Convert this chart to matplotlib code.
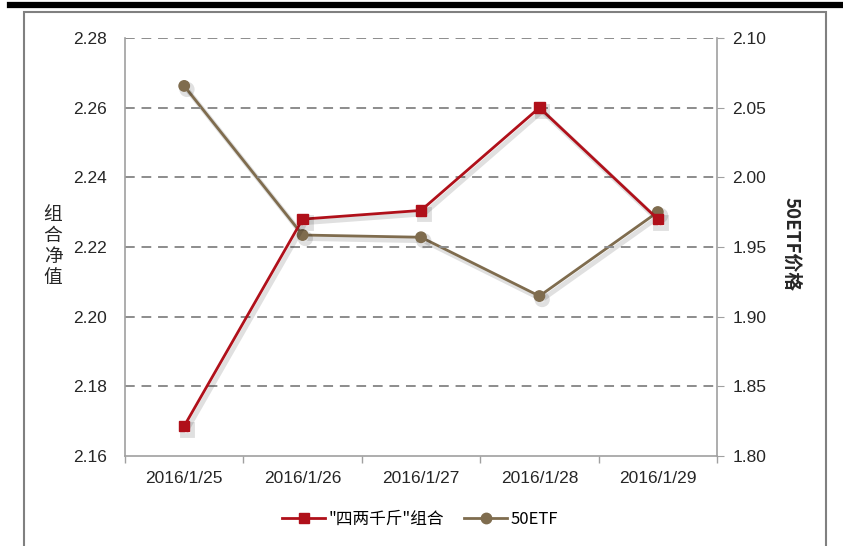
import matplotlib
matplotlib.use("Agg")
import matplotlib.pyplot as plt
import matplotlib.patheffects as pe
from matplotlib.patches import Rectangle
from matplotlib.lines import Line2D

plt.rcParams['font.family'] = ['Liberation Sans', 'Noto Sans CJK SC', 'DejaVu Sans']

dates = ["2016/1/25", "2016/1/26", "2016/1/27", "2016/1/28", "2016/1/29"]
portfolio = [2.1686, 2.2280, 2.2305, 2.2600, 2.2280]
etf50 = [2.0656, 1.9586, 1.9570, 1.9148, 1.9751]
left_ticks = [2.16, 2.18, 2.20, 2.22, 2.24, 2.26, 2.28]
right_ticks = [1.80, 1.85, 1.90, 1.95, 2.00, 2.05, 2.10]
name_port = '"四两千斤"组合'
name_etf = '50ETF'

red = '#B0101A'
brown = '#7F6C4E'
axcol = '#A0A0A0'

fig = plt.figure(figsize=(8.43, 5.46), dpi=100)
# outer frame and top black rule
fig.add_artist(Line2D([10/843, 842/843], [1-5/546, 1-5/546], color='black', lw=4.5, transform=fig.transFigure))
fig.add_artist(Rectangle((24/843, -0.05), (826-24)/843, 1.05-12/546,
                         fill=False, edgecolor='#808080', lw=1.5, transform=fig.transFigure))

ax = fig.add_axes([125/843, 1-456/546, (717-125)/843, (456-38)/546])
ax2 = ax.twinx()

x = list(range(len(dates)))
shadow = [pe.SimpleLineShadow(offset=(2, -2.5), shadow_color='#000000', alpha=0.12, linewidth=3.5), pe.Normal()]

ax.plot(x, portfolio, color=red, lw=2.0, marker='s', markersize=7.5, zorder=3,
        path_effects=shadow)
ax2.plot(x, etf50, color=brown, lw=2.0, marker='o', markersize=7.5, zorder=3,
         path_effects=shadow)

ax.set_xlim(-0.5, len(dates) - 0.5)
ax.set_ylim(left_ticks[0], left_ticks[-1])
ax2.set_ylim(right_ticks[0], right_ticks[-1])
ax.set_yticks(left_ticks)
ax.set_yticklabels([f'{v:.2f}' for v in left_ticks])
ax2.set_yticks(right_ticks)
ax2.set_yticklabels([f'{v:.2f}' for v in right_ticks])

for v in left_ticks[1:]:
    ax.axhline(v, color='#8C8C8C', lw=1.4, ls=(0, (5, 3.5)), zorder=1)

ax.set_xticks(x)
ax.set_xticklabels(dates)
ax.set_xticks([i - 0.5 for i in range(len(dates) + 1)], minor=True)
ax.tick_params(axis='x', which='major', length=0, pad=11, labelsize=12.5, colors='#262626')
ax.tick_params(axis='x', which='minor', length=5, color=axcol, width=1)
ax.tick_params(axis='y', length=0, pad=13, labelsize=12.5, colors='#262626')
ax2.tick_params(axis='y', length=5, direction='out', color=axcol, pad=6, labelsize=12.5, colors='#262626')

for a in (ax, ax2):
    for s in a.spines.values():
        s.set_visible(False)
ax.spines['left'].set_visible(True)
ax.spines['bottom'].set_visible(True)
ax2.spines['right'].set_visible(True)
for s in (ax.spines['left'], ax.spines['bottom'], ax2.spines['right']):
    s.set_color(axcol)
    s.set_linewidth(1.2)

ax.set_zorder(ax2.get_zorder() + 1)
ax.patch.set_visible(False)

fig.text(53/843, 1-246/546, '组\n合\n净\n值', ha='center', va='center', fontsize=13.5,
         linespacing=1.0, family=['Noto Sans CJK SC', 'DejaVu Sans'], color='#262626')
fig.text(791/843, 1-244/546, '50ETF价格', ha='center', va='center', fontsize=13.5, rotation=270,
         family=['Noto Sans CJK SC', 'DejaVu Sans'], color='#262626', fontweight='bold')

handles = [Line2D([], [], color=red, lw=2.0, marker='s', markersize=7.5),
           Line2D([], [], color=brown, lw=2.0, marker='o', markersize=7.5)]
fig.legend(handles, [name_port, name_etf], loc='center', bbox_to_anchor=(420/843, 1-519/546),
           ncol=2, frameon=False, handlelength=2.6, handletextpad=0.2, columnspacing=1.2,
           prop={'family': ['Noto Sans CJK SC', 'DejaVu Sans'], 'size': 12})

fig.savefig('out.png', dpi=100)
